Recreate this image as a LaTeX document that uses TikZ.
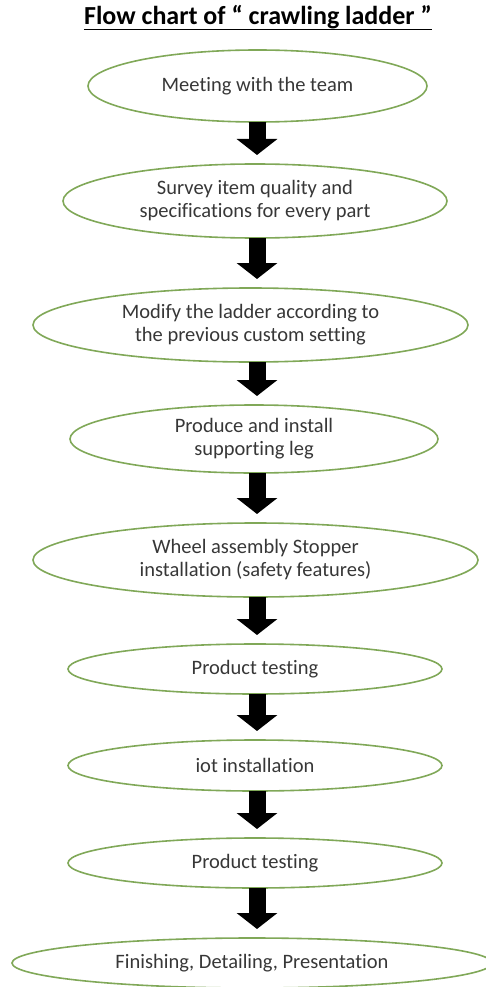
\documentclass[tikz,border=0pt]{standalone}
\usepackage{fontspec}
\setmainfont{Carlito}[Ligatures=NoCommon]
\usetikzlibrary{shapes.geometric,arrows.meta}
\definecolor{egreen}{RGB}{128,168,88}
\definecolor{etext}{RGB}{55,55,55}
\begin{document}
\begin{tikzpicture}[x=1pt,y=1pt,
  stage/.style={ellipse, draw=egreen, line width=1.6pt, inner sep=0pt, outer sep=0pt,
    text=etext, align=center, font=\fontsize{20.5}{23}\selectfont},
  flow/.style={black, line width=17pt, -{Triangle[width=40pt,length=16pt]}},
  gap/.style={yshift=9pt}
]
\clip (0,0) rectangle (486,-987);
\node[inner sep=0pt, anchor=base, font=\bfseries\fontsize{26}{28}\selectfont] (title) at (258,-25) {Flow chart of “ crawling ladder ”};
\draw[line width=1.6pt] ([yshift=-4.5pt]title.base west) -- ([yshift=-4.5pt]title.base east);

\node[stage, minimum width=339, minimum height=72] (e1) at (257.5,-86) {Meeting with the team};
\node[stage, minimum width=384, minimum height=74] (e2) at (255,-201) {Survey item quality and\\specifications for every part};
\node[stage, minimum width=435, minimum height=74] (e3) at (250.5,-325) {Modify the ladder according to\\the previous custom setting};
\node[stage, minimum width=368, minimum height=68] (e4) at (254,-439) {Produce and install\\supporting leg};
\node[stage, minimum width=445, minimum height=74] (e5) at (255.5,-560) {Wheel assembly Stopper\\installation (safety features)};
\node[stage, minimum width=374, minimum height=50] (e6) at (255,-669) {Product testing};
\node[stage, minimum width=374, minimum height=51] (e7) at (255,-765.5) {iot installation};
\node[stage, minimum width=374, minimum height=50] (e8) at (255,-863) {Product testing};
\node[stage, minimum width=480, minimum height=50] (e9) at (252,-963) {Finishing, Detailing, Presentation};

\coordinate (ax) at (257,0);
\draw[flow] (e1.south -| ax) -- ([gap]e2.north -| ax);
\draw[flow] (e2.south -| ax) -- ([gap]e3.north -| ax);
\draw[flow] (e3.south -| ax) -- ([gap]e4.north -| ax);
\draw[flow] (e4.south -| ax) -- ([gap]e5.north -| ax);
\draw[flow] (e5.south -| ax) -- ([gap]e6.north -| ax);
\draw[flow] (e6.south -| ax) -- ([gap]e7.north -| ax);
\draw[flow] (e7.south -| ax) -- ([gap]e8.north -| ax);
\draw[flow] (e8.south -| ax) -- ([gap]e9.north -| ax);
\end{tikzpicture}
\end{document}
